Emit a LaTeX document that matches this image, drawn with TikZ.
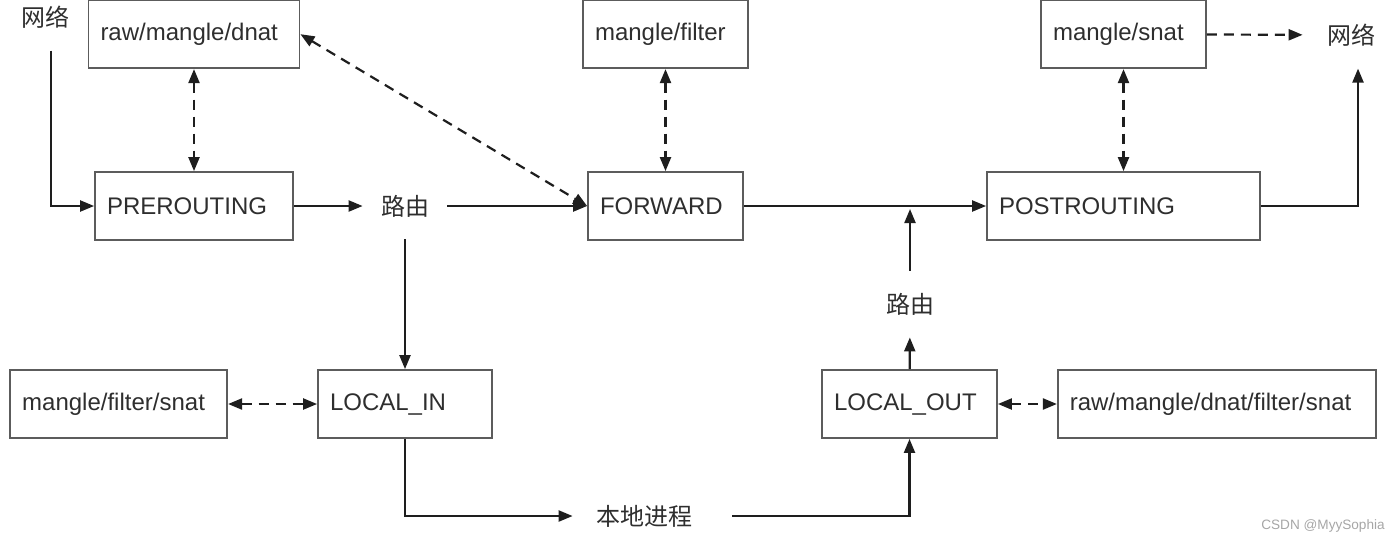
\documentclass[tikz,border=0pt]{standalone}
\usepackage{fontspec}
\setmainfont{Liberation Sans}
\newfontfamily\cjk{Noto Sans CJK SC}
\usetikzlibrary{arrows.meta,positioning}
\definecolor{strich}{HTML}{1E1E1E}
\definecolor{rahmen}{HTML}{5C5C5C}
\definecolor{schrift}{HTML}{2E2E2E}

\begin{document}
\begin{tikzpicture}[
  x=0.5pt, y=-0.5pt,
  kette/.style={draw=rahmen, line width=0.9pt, minimum height=34pt, inner xsep=6pt, align=left, text=schrift, font=\fontsize{12pt}{14pt}\selectfont},
  tabelle/.style={kette},
  wort/.style={inner xsep=9pt, inner ysep=11pt, text=schrift, font=\cjk\fontsize{12pt}{14pt}\selectfont},
  pfeil/.style={-{Triangle[length=7pt,width=5.5pt]}, line width=1.1pt, draw=strich},
  luecke/.style={pfeil, dash pattern=on 5pt off 3.5pt},
  doppel/.style={luecke, {Triangle[length=7pt,width=5.5pt]}-{Triangle[length=7pt,width=5.5pt]}}
]
\useasboundingbox (0,0) rectangle (1400,542);
\node[kette, text width=87pt] (pre) at (194,206) {PREROUTING};
\node[kette, text width=65.5pt] (fwd) at (665.5,206) {FORWARD};
\node[kette, text width=124.5pt] (post) at (1123.5,206) {POSTROUTING};
\node[kette, text width=75pt] (lin) at (405,404) {LOCAL\_IN};
\node[kette, text width=75.5pt] (lout) at (909.5,404) {LOCAL\_OUT};
\node[tabelle, text width=93.5pt, above=51pt of pre] (rmd) {raw/mangle/dnat};
\node[tabelle, text width=70.5pt, above=51pt of fwd] (mf) {mangle/filter};
\node[tabelle, text width=70.5pt, above=51pt of post] (ms) {mangle/snat};
\node[tabelle, text width=96.5pt, left=44.5pt of lin] (mfs) {mangle/filter/snat};
\node[tabelle, text width=147pt, right=29.5pt of lout] (rmdfs) {raw/mangle/dnat/filter/snat};
\node[wort] (netz1) at (45,17) {网络};
\node[wort] (netz2) at (1351,35) {网络};
\node[wort] (weg1) at (405,206) {路由};
\node[wort] (weg2) at (910,304) {路由};
\node[wort] (proz) at (644,516) {本地进程};
\node[font=\fontsize{6.8pt}{8pt}\selectfont, text=gray!70] (marke) at (1323,526) {CSDN @MyySophia};
\coordinate (treff) at (weg2 |- post.west);
\draw[pfeil] ([xshift=3pt]netz1.south) |- (pre);
\draw[pfeil] (pre) -- (weg1);
\draw[pfeil] (weg1) -- (fwd);
\draw[pfeil] (weg1) -- (lin);
\draw[pfeil] (fwd) -- (post);
\draw[pfeil] (lout) -- (weg2);
\draw[pfeil, shorten >=1.5pt] (weg2) -- (treff);
\draw[pfeil, shorten >=2.5pt] (lin) |- (proz);
\draw[pfeil] ([xshift=11pt]proz.east) -| (lout);
\draw[pfeil] (post) -| ([xshift=3.5pt]netz2.south);
\draw[doppel] (rmd) -- (pre);
\draw[doppel] (mf) -- (fwd);
\draw[doppel] (ms) -- (post);
\draw[doppel] (mfs) -- (lin);
\draw[doppel] (lout) -- (rmdfs);
\draw[doppel] (rmd.east) -- (fwd.west);
\draw[luecke, shorten >=3pt] (ms) -- (netz2);
\end{tikzpicture}
\end{document}
